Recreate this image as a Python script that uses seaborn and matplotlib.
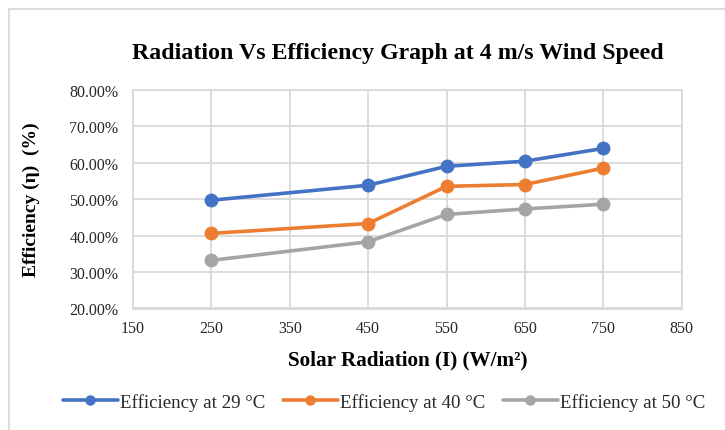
import matplotlib
matplotlib.use("Agg")
import matplotlib.pyplot as plt
import seaborn as sns
import pandas as pd
from matplotlib.patches import Rectangle
from matplotlib.ticker import PercentFormatter

radiation = [250, 450, 550, 650, 750]
eff_29 = [49.7, 53.8, 59.0, 60.4, 63.9]
eff_40 = [40.6, 43.3, 53.5, 54.0, 58.5]
eff_50 = [33.2, 38.3, 45.8, 47.3, 48.6]
series_names = ["Efficiency at 29 °C", "Efficiency at 40 °C", "Efficiency at 50 °C"]
colors = ["#4472C4", "#ED7D31", "#A5A5A5"]
x_ticks = [150, 250, 350, 450, 550, 650, 750, 850]
y_ticks = [20, 30, 40, 50, 60, 70, 80]

rows = []
for name, vals in zip(series_names, [eff_29, eff_40, eff_50]):
    for x, v in zip(radiation, vals):
        rows.append({"Radiation": x, "Efficiency": v, "Series": name})
df = pd.DataFrame(rows)

sns.set_theme(style="white")
plt.rcParams['font.family'] = ['Liberation Serif', 'DejaVu Serif']

W, H = 725, 431
fig = plt.figure(figsize=(W / 100, H / 100), dpi=100)
ax = fig.add_axes([133 / W, 1 - 309.5 / H, (681.7 - 133) / W, (309.5 - 90.7) / H])

sns.lineplot(data=df, x="Radiation", y="Efficiency", hue="Series",
             palette=colors, marker="o", markersize=10, markeredgewidth=0,
             linewidth=2.6, ax=ax, legend=True)

ax.set_xlim(150, 850)
ax.set_ylim(20, 80)
ax.set_xticks(x_ticks)
ax.set_yticks(y_ticks)
ax.yaxis.set_major_formatter(PercentFormatter(decimals=2))
ax.grid(True, color="#D9D9D9", linewidth=1.3)
ax.set_axisbelow(True)
for s in ax.spines.values():
    s.set_color("#D9D9D9")
    s.set_linewidth(1.3)
ax.tick_params(axis="both", length=0, labelsize=11.5, labelcolor="#262626")
ax.tick_params(axis="y", pad=10.5)
ax.tick_params(axis="x", pad=8)

ax.set_xlabel("Solar Radiation (I) (W/m²)", fontsize=15.2, fontweight="bold", color="black", labelpad=10)
ax.set_ylabel("Efficiency (η)  (%)", fontsize=14, fontweight="bold", color="black", labelpad=21)

fig.text(398 / W, 1 - 53 / H, "Radiation Vs Efficiency Graph at 4 m/s Wind Speed",
         ha="center", va="center", fontsize=17.2, fontweight="bold", color="black")

handles, labels = ax.get_legend_handles_labels()
ax.legend(handles, labels, loc="center", bbox_to_anchor=(384 / W, 1 - 403 / H),
          bbox_transform=fig.transFigure, ncol=3, frameon=False, fontsize=13.6,
          handlelength=2.9, handletextpad=0.1, columnspacing=0.95, markerscale=0.75)

fig.patches.append(Rectangle((9 / W, -0.1), 1.0, 1 - 10 / H + 0.1, transform=fig.transFigure,
                             fill=False, edgecolor="#D9D9D9", linewidth=1.3))

fig.savefig("out.png", dpi=100, facecolor="white")
